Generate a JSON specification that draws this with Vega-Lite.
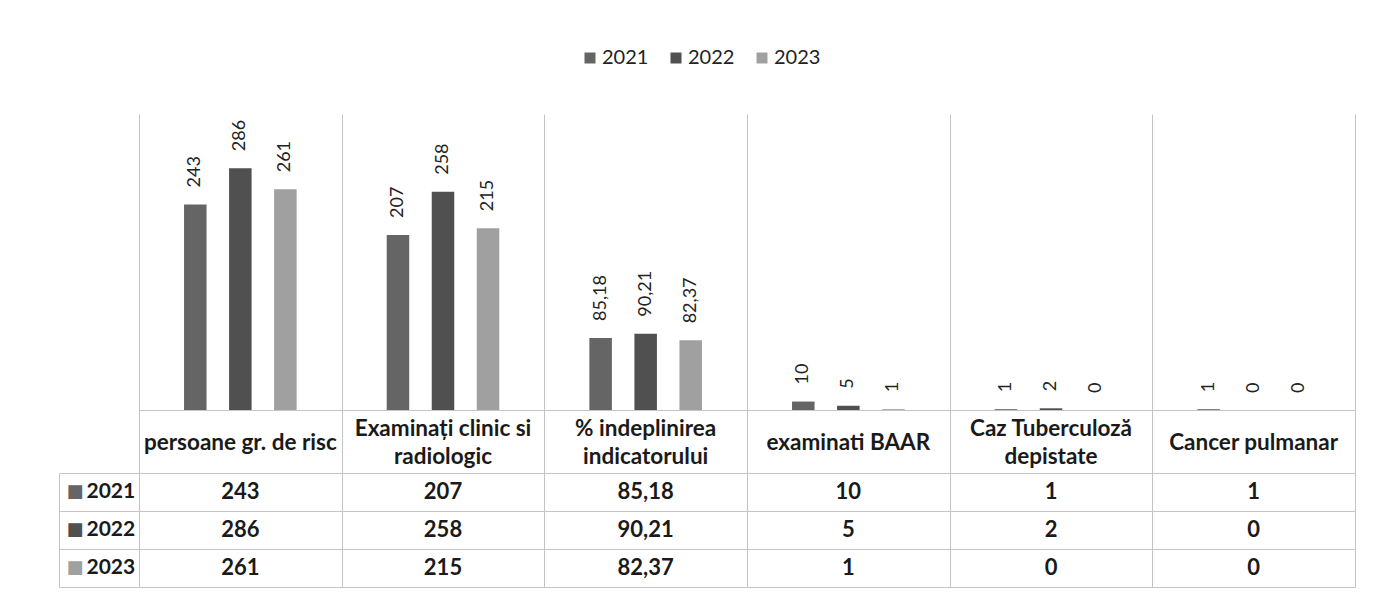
{
  "$schema": "https://vega.github.io/schema/vega-lite/v6.json",
  "padding": {"left": 58, "top": 48, "right": 5, "bottom": 5},
  "background": "white",
  "config": {
    "view": {"stroke": null},
    "font": "Lato",
    "locale": {"number": {"decimal": ",", "thousands": ".", "grouping": [3], "currency": ["", ""]}}
  },
  "spacing": 0,
  "bounds": "flush",
  "resolve": {
    "scale": {"x": "independent", "y": "independent", "color": "independent"},
    "axis": {"x": "independent", "y": "independent"},
    "legend": {"color": "independent"}
  },
  "data": {
    "values": [
      {"cat": "persoane gr. de risc", "year": "2021", "value": 243},
      {"cat": "persoane gr. de risc", "year": "2022", "value": 286},
      {"cat": "persoane gr. de risc", "year": "2023", "value": 261},
      {"cat": "Examinați clinic si\nradiologic", "year": "2021", "value": 207},
      {"cat": "Examinați clinic si\nradiologic", "year": "2022", "value": 258},
      {"cat": "Examinați clinic si\nradiologic", "year": "2023", "value": 215},
      {"cat": "% indeplinirea\nindicatorului", "year": "2021", "value": 85.18},
      {"cat": "% indeplinirea\nindicatorului", "year": "2022", "value": 90.21},
      {"cat": "% indeplinirea\nindicatorului", "year": "2023", "value": 82.37},
      {"cat": "examinati BAAR", "year": "2021", "value": 10},
      {"cat": "examinati BAAR", "year": "2022", "value": 5},
      {"cat": "examinati BAAR", "year": "2023", "value": 1},
      {"cat": "Caz Tuberculoză\ndepistate", "year": "2021", "value": 1},
      {"cat": "Caz Tuberculoză\ndepistate", "year": "2022", "value": 2},
      {"cat": "Caz Tuberculoză\ndepistate", "year": "2023", "value": 0},
      {"cat": "Cancer pulmanar", "year": "2021", "value": 1},
      {"cat": "Cancer pulmanar", "year": "2022", "value": 0},
      {"cat": "Cancer pulmanar", "year": "2023", "value": 0}
    ]
  },
  "vconcat": [
    {
      "width": 1216,
      "height": 296,
      "encoding": {
        "x": {"field": "cat", "type": "nominal", "sort": null,
              "scale": {"type": "band", "paddingInner": 0, "paddingOuter": 0,
                        "domain": ["persoane gr. de risc", "Examinați clinic si\nradiologic", "% indeplinirea\nindicatorului", "examinati BAAR", "Caz Tuberculoză\ndepistate", "Cancer pulmanar"]},
              "axis": {"title": null, "labels": false, "ticks": false, "domain": false, "grid": true, "tickBand": "extent", "gridColor": "#c4c4c4", "gridWidth": 1}},
        "xOffset": {"field": "year", "type": "nominal", "scale": {"paddingInner": 0.5, "paddingOuter": 1.16}},
        "y": {"field": "value", "type": "quantitative", "scale": {"domain": [0, 350]}, "axis": null}
      },
      "layer": [
        {
          "mark": {"type": "bar"},
          "encoding": {
            "color": {"field": "year", "type": "nominal",
                      "scale": {"domain": ["2021", "2022", "2023"], "range": ["#656565", "#505050", "#a0a0a0"]},
                      "legend": {"orient": "none", "legendX": 441, "legendY": -66, "direction": "horizontal", "title": null,
                                 "symbolType": "square", "symbolSize": 121, "symbolStrokeWidth": 0,
                                 "labelFontSize": 20, "labelOffset": 2, "columnPadding": 17, "labelColor": "#222"}}
          }
        },
        {
          "mark": {"type": "text", "angle": 270, "align": "left", "baseline": "middle", "dx": 17, "fontSize": 18, "color": "#222"},
          "encoding": {"text": {"field": "value", "type": "quantitative", "format": "~g"}}
        }
      ]
    },
    {
      "width": 1216,
      "height": 63,
      "view": {"stroke": "#c4c4c4"},
      "transform": [{"filter": "datum.year == '2021'"}],
      "encoding": {
        "x": {"field": "cat", "type": "nominal", "sort": null,
              "scale": {"type": "band", "paddingInner": 0, "paddingOuter": 0,
                        "domain": ["persoane gr. de risc", "Examinați clinic si\nradiologic", "% indeplinirea\nindicatorului", "examinati BAAR", "Caz Tuberculoză\ndepistate", "Cancer pulmanar"]},
              "axis": {"title": null, "labels": false, "ticks": false, "domain": false, "grid": true, "tickBand": "extent", "gridColor": "#c4c4c4"}},
        "text": {"field": "cat", "type": "nominal"}
      },
      "layer": [
        {
          "transform": [{"filter": "indexof(datum.cat, '\\n') < 0"}],
          "mark": {"type": "text", "fontSize": 22.5, "fontWeight": "bold", "color": "#1a1a1a", "dy": 1}
        },
        {
          "transform": [{"filter": "indexof(datum.cat, '\\n') >= 0"}],
          "mark": {"type": "text", "lineBreak": "\n", "fontSize": 22.5, "fontWeight": "bold", "color": "#1a1a1a", "lineHeight": 28, "dy": -13}
        }
      ]
    },
    {
      "width": 1216,
      "height": 114,
      "view": {"stroke": "#c4c4c4"},
      "resolve": {"axis": {"y": "independent"}},
      "layer": [
        {
          "mark": {"type": "text", "fontSize": 22, "fontWeight": "bold", "color": "#1a1a1a"},
          "encoding": {
            "x": {"field": "cat", "type": "nominal", "sort": null,
                  "scale": {"type": "band", "paddingInner": 0, "paddingOuter": 0,
                            "domain": ["persoane gr. de risc", "Examinați clinic si\nradiologic", "% indeplinirea\nindicatorului", "examinati BAAR", "Caz Tuberculoză\ndepistate", "Cancer pulmanar"]},
                  "axis": {"title": null, "labels": false, "ticks": false, "domain": false, "grid": true, "tickBand": "extent", "gridColor": "#c4c4c4"}},
            "y": {"field": "year", "type": "nominal",
                  "scale": {"type": "band", "paddingInner": 0, "paddingOuter": 0},
                  "axis": {"orient": "left", "title": null, "labels": false, "domain": false, "grid": true, "tickBand": "extent", "ticks": true, "tickSize": 80, "tickColor": "#c4c4c4", "gridColor": "#c4c4c4"}},
            "text": {"field": "value", "type": "quantitative", "format": "~g"}
          }
        },
        {
          "mark": {"type": "text", "opacity": 0},
          "encoding": {
            "y": {"field": "year", "type": "nominal",
                  "axis": {"orient": "left", "title": null, "domain": false, "ticks": false, "grid": false, "labelAlign": "left", "labelPadding": 53,
                           "labelFontSize": 21, "labelFontWeight": "bold", "labelColor": "#1a1a1a"}}
          }
        },
        {
          "mark": {"type": "text", "opacity": 0},
          "encoding": {
            "y": {"field": "year", "type": "nominal",
                  "axis": {"orient": "left", "title": null, "domain": false, "ticks": false, "grid": false, "labelAlign": "left", "labelPadding": 73,
                           "labelExpr": "'■'", "labelFontSize": 18, "labelFont": "DejaVu Sans",
                           "labelColor": {"condition": [{"test": "datum.value == '2021'", "value": "#656565"}, {"test": "datum.value == '2022'", "value": "#505050"}], "value": "#a0a0a0"}}}
          }
        },
        {
          "mark": {"type": "text", "opacity": 0},
          "encoding": {
            "y": {"field": "year", "type": "nominal",
                  "axis": {"orient": "left", "title": null, "offset": 80, "domain": true, "domainColor": "#c4c4c4", "labels": false, "ticks": false, "grid": false}}
          }
        }
      ]
    }
  ]
}
